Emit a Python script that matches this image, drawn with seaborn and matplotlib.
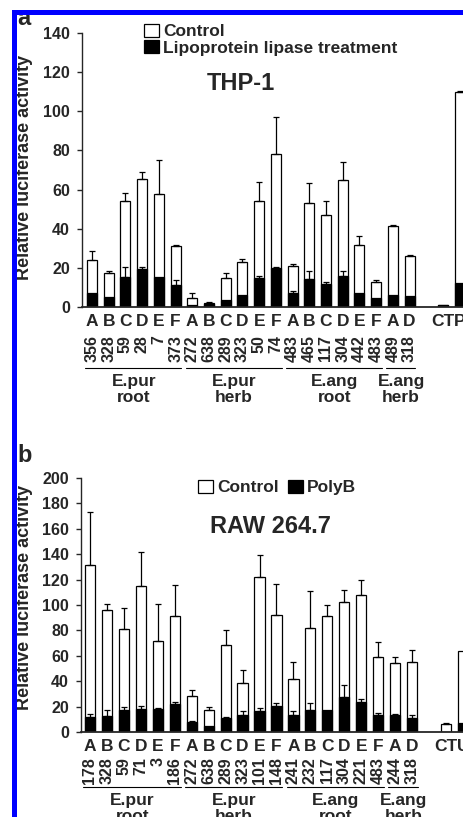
import numpy as np
import pandas as pd
import seaborn as sns
from matplotlib import pyplot as plt
from matplotlib.patches import Patch, Rectangle
from matplotlib.transforms import blended_transform_factory

# ---- data -------------------------------------------------------------
# 20 extract bars, one empty slot, then the controls
letters = ["A", "B", "C", "D", "E", "F"] * 3 + ["A", "D", "", "CT"]
groups = [("E.pur\nroot", 0, 5), ("E.pur\nherb", 6, 11),
          ("E.ang\nroot", 12, 17), ("E.ang\nherb", 18, 19)]

# panel a, THP-1
a_letters = letters + ["P"]
a_numbers = ["356", "328", "59", "28", "7", "373", "272", "638", "289", "323", "50", "74",
             "483", "465", "117", "304", "442", "483", "489", "318"]
a_control = [24, 17.6, 54, 65.5, 57.5, 31.3, 4.6, 2.2, 14.9, 23, 54, 78,
             21, 53.3, 46.8, 65, 31.6, 12.8, 41.4, 26, None, 0.9, 109.6]
a_control_err = [4.7, 0.6, 4.5, 3.5, 17.5, 0.3, 2.7, 0.5, 2.3, 1.4, 10, 19,
                 1, 10, 7.2, 9, 4.8, 1, 0.7, 0.4, None, 0, 0.8]
a_treat = [7, 5, 15.4, 19.5, 15.4, 11.3, 1, 1.5, 3.5, 6, 15, 20,
           7, 14.5, 11.6, 16, 7, 4.6, 6.1, 5.6, None, 0.9, 12.5]
a_treat_err = [0, 0, 5.2, 1, 0, 2.6, 0, 0, 0, 0, 1, 0.5,
               1, 4, 1.1, 2.6, 0, 0, 0, 0, None, 0, 0]

# panel b, RAW 264.7
b_letters = letters + ["U"]
b_numbers = ["178", "328", "59", "71", "3", "186", "272", "638", "289", "323", "101", "148",
             "241", "232", "117", "304", "221", "483", "244", "318"]
b_control = [131.5, 96, 81, 115, 71.4, 91.7, 28, 17.4, 68.2, 38.7, 122, 92,
             41.6, 81.7, 91, 102.5, 107.5, 59, 54.3, 54.8, None, 6, 63.5]
b_control_err = [41.5, 5, 17, 27, 29.3, 24, 5, 2.6, 11.8, 9.8, 17, 24.7,
                 13.2, 29.3, 9, 9.5, 11.9, 11.6, 4.5, 10, None, 1.4, 0]
b_treat = [11.6, 12.6, 17.4, 18.4, 18, 22, 7.7, 4.7, 10.8, 13.7, 16.6, 20.5,
           13.4, 17.4, 17.4, 27.4, 24, 13.4, 13.4, 11.3, None, None, 7]
b_treat_err = [2.4, 4.4, 2.1, 2.1, 1, 2, 0.8, 0, 0.7, 3.1, 2.4, 2.5,
               3.4, 5.3, 0, 9.6, 2, 1.3, 1.1, 2.1, None, None, 0]

sns.set_style("ticks")
plt.rcParams['font.family'] = ['Liberation Sans', 'DejaVu Sans']
plt.rcParams['font.weight'] = 'bold'

W, H = 463, 817
fig = plt.figure(figsize=(W / 100, H / 100), dpi=100)


def px_rect(left, top, right, bottom):
    return [left / W, 1 - bottom / H, (right - left) / W, (bottom - top) / H]


def draw_panel(ax, letters_, numbers, control, control_err, treat, treat_err,
               treat_name, ymax, ytick_step, xlim, title, title_xy, leg_xy, leg_ncol,
               ylabel_xy, num_y, line_y, grp_y):
    slots = [str(i) for i in range(len(letters_))]
    rows = []
    for i, s in enumerate(slots):
        if control[i] is not None:
            rows.append((s, "Control", control[i], control_err[i]))
        if treat[i] is not None:
            rows.append((s, treat_name, treat[i], treat_err[i]))
    df = pd.DataFrame(rows, columns=["slot", "series", "value", "err"])
    palette = {"Control": "white", treat_name: "black"}

    sns.barplot(data=df, x="slot", y="value", hue="series", order=slots,
                hue_order=["Control", treat_name], palette=palette, dodge=False,
                width=0.6, edgecolor="black", linewidth=0.9, errorbar=None,
                legend=False, ax=ax)

    # upward-only error bars
    for name in ["Control", treat_name]:
        sub = df[(df["series"] == name) & (df["err"] > 0)]
        xs = [slots.index(s) for s in sub["slot"]]
        ax.errorbar(xs, sub["value"], yerr=[np.zeros(len(sub)), sub["err"]],
                    fmt="none", ecolor="black", elinewidth=0.9, capsize=2.5,
                    capthick=0.9, zorder=5)

    ax.set_xlim(*xlim)
    ax.set_ylim(0, ymax)
    ax.set_yticks(np.arange(0, ymax + 1, ytick_step))
    ax.set_xticks(range(len(slots)))
    ax.set_xticklabels(letters_, fontsize=12.5, fontweight="bold")
    ax.tick_params(axis="x", length=0, pad=5)
    ax.tick_params(axis="y", length=3.6, width=1, pad=5, labelsize=11.5)
    for lab in ax.get_yticklabels():
        lab.set_fontweight("bold")
    ax.set_xlabel("")
    ax.set_ylabel("Relative luciferase activity", fontsize=13, fontweight="bold")
    ax.yaxis.label.set_va("center")
    ax.yaxis.set_label_coords(*ylabel_xy)
    sns.despine(ax=ax)
    ax.spines["bottom"].set_linewidth(1.3)
    ax.spines["left"].set_linewidth(1.0)

    trans = blended_transform_factory(ax.transData, ax.transAxes)
    for i, num in enumerate(numbers):
        ax.text(i, num_y, num, rotation=90, ha="center", va="top",
                fontsize=11.5, fontweight="bold", transform=trans)
    for name, i0, i1 in groups:
        ax.plot([i0 - 0.4, i1 + 0.35], [line_y, line_y], color="black", lw=0.8,
                transform=trans, clip_on=False)
        ax.text((i0 + i1) / 2, grp_y, name, ha="center", va="top", fontsize=12.5,
                fontweight="bold", linespacing=1.1, transform=trans)

    ax.text(*title_xy, title, ha="center", va="center", fontsize=17,
            fontweight="bold", transform=ax.transAxes)

    handles = [Patch(facecolor=palette[k], edgecolor="black", linewidth=0.9)
               for k in ["Control", treat_name]]
    ax.legend(handles, ["Control", treat_name], loc="upper left", bbox_to_anchor=leg_xy,
              ncol=leg_ncol, frameon=False, handlelength=0.85, handleheight=0.75,
              handletextpad=0.25, borderpad=0, borderaxespad=0, labelspacing=0.05,
              columnspacing=0.55, prop={"size": 12.5, "weight": "bold"})


ax_a = fig.add_axes(px_rect(82, 33, W, 307))
draw_panel(ax_a, a_letters, a_numbers, a_control, a_control_err, a_treat, a_treat_err,
           "Lipoprotein lipase treatment", 140, 20, (-0.6, 22.2), "THP-1", (0.417, 0.814),
           (0.163, 1.033), 1, (-0.152, 0.51), -0.102, -0.223, -0.245)

ax_b = fig.add_axes(px_rect(81, 478, W, 732))
draw_panel(ax_b, b_letters, b_numbers, b_control, b_control_err, b_treat, b_treat_err,
           "PolyB", 200, 20, (-0.53, 21.88), "RAW 264.7", (0.497, 0.811),
           (0.306, 0.992), 2, (-0.149, 0.528), -0.098, -0.217, -0.240)

# panel letters
fig.text(17 / W, 1 - 25 / H, "a", fontsize=17, fontweight="bold", ha="left", va="baseline")
fig.text(17 / W, 1 - 462 / H, "b", fontsize=17, fontweight="bold", ha="left", va="baseline")

# blue frame
fig.add_artist(Rectangle((12 / W, 0), 5 / W, 1 - 10 / H, transform=fig.transFigure,
                         facecolor=(0, 0, 1), edgecolor="none", zorder=10))
fig.add_artist(Rectangle((12 / W, 1 - 15 / H), 1 - 12 / W, 5 / H, transform=fig.transFigure,
                         facecolor=(0, 0, 1), edgecolor="none", zorder=10))

fig.savefig("out.png", dpi=100)
